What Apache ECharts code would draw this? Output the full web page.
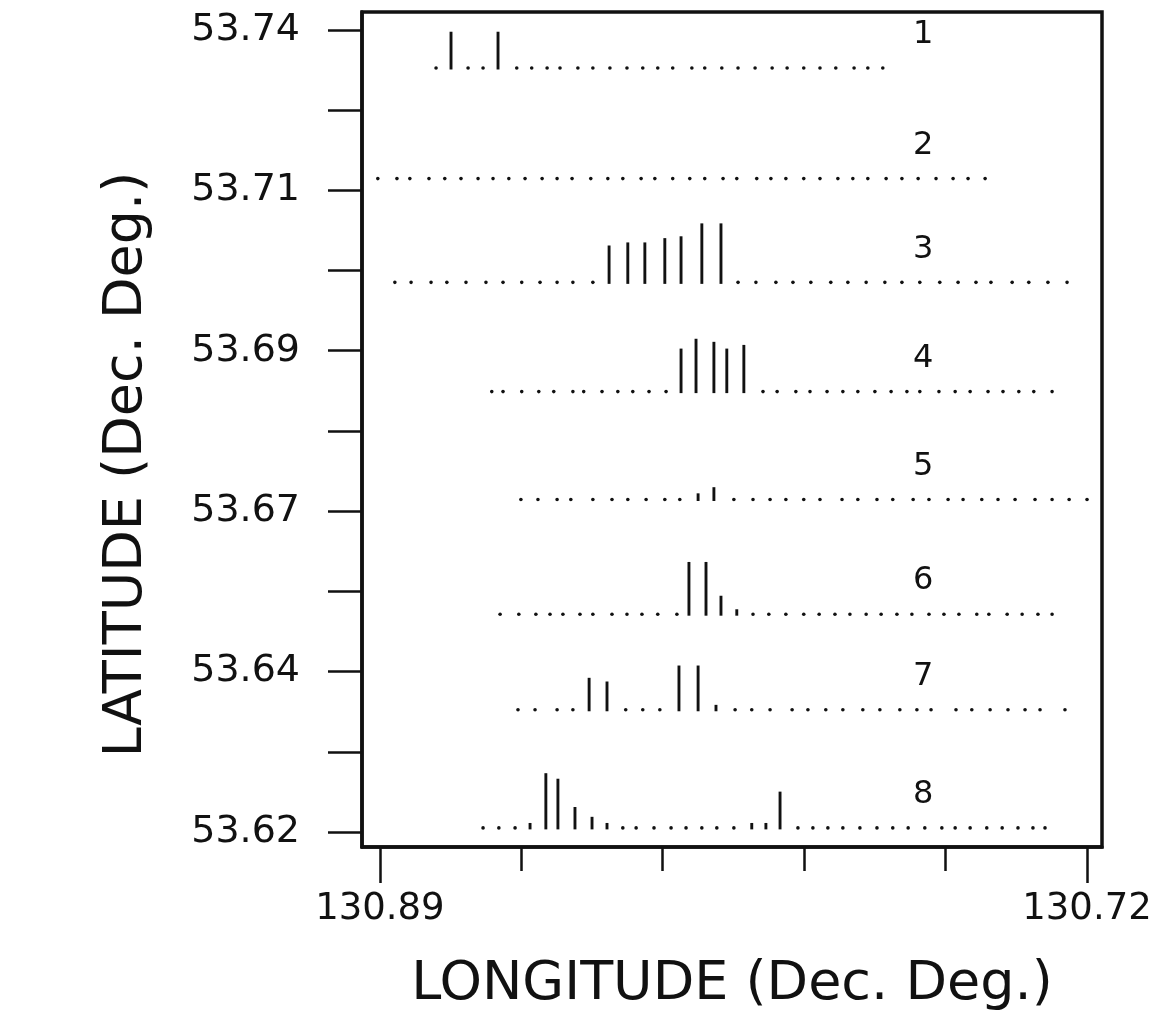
<!DOCTYPE html>
<html>
<head>
<meta charset="utf-8">
<script src="https://cdn.jsdelivr.net/npm/echarts@6/dist/echarts.min.js"></script>
<style>
html,body{margin:0;padding:0;background:#fff;}
#chart{width:1164px;height:1017px;}
</style>
</head>
<body>
<div id="chart"></div>
<script>
// ---- axis ticks / labels ----
const xTickValues = [130.89, 130.856, 130.822, 130.788, 130.754, 130.72];
const xLabelValues = [130.89, 130.72];
const xTickLabels = ['130.89', '130.72'];
const yTickValues = [53.62, 53.63175, 53.6435, 53.65525, 53.667, 53.67875, 53.6905, 53.70225, 53.714, 53.72575, 53.7375];
const yLabelValues = [53.62, 53.6435, 53.667, 53.6905, 53.714, 53.7375];
const yTickLabels = ['53.62', '53.64', '53.67', '53.69', '53.71', '53.74'];

// ---- profiles: names, baseline latitudes ----
const profileNames = ['1', '2', '3', '4', '5', '6', '7', '8'];
const profileLat = [53.7319, 53.7157, 53.7005, 53.6845, 53.6687, 53.6519, 53.6379, 53.6206];
const labelLon = 130.7594;

// station longitudes and amplitudes (amplitude units)
const p1Lon = [130.8765,130.8729,130.8688,130.8652,130.8616,130.8571,130.8535,130.8498,130.8467,130.8424,130.8388,130.8347,130.8306,130.8268,130.8232,130.8196,130.8150,130.8119,130.8078,130.8039,130.7998,130.7957,130.7921,130.7881,130.7842,130.7804,130.7760,130.7727,130.7691];
const p1Amp = [0,5.9,0,0,5.9,0,0,0,0,0,0,0,0,0,0,0,0,0,0,0,0,0,0,0,0,0,0,0,0];

const p2Lon = [130.8905,130.8859,130.8828,130.8782,130.8744,130.8705,130.8664,130.8628,130.8590,130.8551,130.8510,130.8474,130.8438,130.8393,130.8352,130.8316,130.8272,130.8239,130.8196,130.8155,130.8119,130.8075,130.8042,130.7994,130.7960,130.7924,130.7881,130.7842,130.7799,130.7763,130.7727,130.7683,130.7645,130.7606,130.7563,130.7522,130.7486,130.7445];
const p2Amp = [0,0,0,0,0,0,0,0,0,0,0,0,0,0,0,0,0,0,0,0,0,0,0,0,0,0,0,0,0,0,0,0,0,0,0,0,0,0];

const p3Lon = [130.8864,130.8825,130.8777,130.8739,130.8693,130.8645,130.8604,130.8559,130.8515,130.8474,130.8436,130.8388,130.8349,130.8304,130.8263,130.8215,130.8176,130.8126,130.8080,130.8039,130.7996,130.7948,130.7907,130.7864,130.7816,130.7775,130.7731,130.7686,130.7645,130.7602,130.7554,130.7510,130.7467,130.7431,130.7380,130.7340,130.7294,130.7248];
const p3Amp = [0,0,0,0,0,0,0,0,0,0,0,0,6.0,6.5,6.5,7.2,7.5,9.6,9.6,0,0,0,0,0,0,0,0,0,0,0,0,0,0,0,0,0,0,0];

const p4Lon = [130.8631,130.8604,130.8559,130.8518,130.8482,130.8436,130.8410,130.8366,130.8328,130.8292,130.8253,130.8212,130.8176,130.8140,130.8097,130.8066,130.8025,130.7979,130.7945,130.7900,130.7866,130.7825,130.7787,130.7751,130.7710,130.7671,130.7633,130.7602,130.7556,130.7517,130.7481,130.7438,130.7402,130.7364,130.7328,130.7284];
const p4Amp = [0,0,0,0,0,0,0,0,0,0,0,0,7.0,8.6,8.1,7.0,7.6,0,0,0,0,0,0,0,0,0,0,0,0,0,0,0,0,0,0,0];

const p5Lon = [130.8561,130.8520,130.8474,130.8441,130.8388,130.8342,130.8304,130.8260,130.8215,130.8179,130.8135,130.8097,130.8049,130.8003,130.7962,130.7924,130.7881,130.7842,130.7789,130.7751,130.7705,130.7667,130.7618,130.7580,130.7534,130.7498,130.7453,130.7414,130.7373,130.7325,130.7284,130.7243,130.7200];
const p5Amp = [0,0,0,0,0,0,0,0,0,0,1.0,2.0,0,0,0,0,0,0,0,0,0,0,0,0,0,0,0,0,0,0,0,0,0];

const p6Lon = [130.8611,130.8566,130.8525,130.8491,130.8460,130.8419,130.8388,130.8342,130.8306,130.8270,130.8232,130.8186,130.8157,130.8116,130.8080,130.8042,130.8003,130.7965,130.7924,130.7881,130.7844,130.7806,130.7770,130.7731,130.7695,130.7657,130.7621,130.7580,130.7544,130.7508,130.7465,130.7436,130.7392,130.7356,130.7318,130.7284];
const p6Amp = [0,0,0,0,0,0,0,0,0,0,0,0,8.5,8.5,3.0,0.8,0,0,0,0,0,0,0,0,0,0,0,0,0,0,0,0,0,0,0,0];

const p7Lon = [130.8568,130.8527,130.8474,130.8436,130.8397,130.8354,130.8309,130.8268,130.8227,130.8181,130.8135,130.8092,130.8046,130.8006,130.7962,130.7909,130.7871,130.7828,130.7787,130.7739,130.7698,130.7650,130.7609,130.7575,130.7515,130.7477,130.7433,130.7390,130.7349,130.7313,130.7253];
const p7Amp = [0,0,0,0,5.2,4.6,0,0,0,7.2,7.2,0.8,0,0,0,0,0,0,0,0,0,0,0,0,0,0,0,0,0,0,0];

const p8Lon = [130.8652,130.8614,130.8575,130.8539,130.8501,130.8472,130.8431,130.8390,130.8354,130.8316,130.8284,130.8241,130.8200,130.8164,130.8126,130.8090,130.8049,130.8006,130.7972,130.7938,130.7895,130.7859,130.7823,130.7787,130.7746,130.7705,130.7667,130.7630,130.7590,130.7549,130.7517,130.7481,130.7441,130.7404,130.7366,130.7330,130.7301];
const p8Amp = [0,0,0,0.8,8.9,8.0,3.4,1.8,0.8,0,0,0,0,0,0,0,0,0.8,0.8,5.9,0,0,0,0,0,0,0,0,0,0,0,0,0,0,0,0,0];

const profileLons = [p1Lon, p2Lon, p3Lon, p4Lon, p5Lon, p6Lon, p7Lon, p8Lon];
const profileAmps = [p1Amp, p2Amp, p3Amp, p4Amp, p5Amp, p6Amp, p7Amp, p8Amp];

// ---- styling ----
const INK = '#111111';
const FONT = "'DejaVu Sans', 'Liberation Sans', sans-serif";
const AMP_DEG = 0.0009; // latitude degrees per amplitude unit

const stationData = [];
profileLons.forEach((lons, p) => {
  lons.forEach((lon, i) => {
    stationData.push([lon, profileLat[p], profileAmps[p][i] || 0]);
  });
});
const labelData = profileNames.map((n, p) => [labelLon, profileLat[p], p]);

const chart = echarts.init(document.getElementById('chart'), null, { renderer: 'canvas' });

const option = {
  backgroundColor: '#ffffff',
  animation: false,
  grid: {
    left: 362, right: 62, top: 12, bottom: 169,
    show: true, borderColor: INK, borderWidth: 3.5, backgroundColor: 'transparent'
  },
  xAxis: [
    {
      type: 'value', inverse: true, min: 130.7164, max: 130.8943, position: 'bottom',
      name: 'LONGITUDE (Dec. Deg.)', nameLocation: 'middle', nameGap: 111,
      nameTextStyle: { fontFamily: FONT, fontSize: 54, color: INK },
      axisLine: { show: true, lineStyle: { color: INK, width: 3.5 } },
      axisTick: { show: true, length: 36, customValues: xLabelValues, lineStyle: { color: INK, width: 2.5 } },
      axisLabel: {
        show: true, customValues: xLabelValues, margin: 44,
        fontFamily: FONT, fontSize: 37, color: INK,
        formatter: (v) => { const i = xLabelValues.findIndex(t => Math.abs(t - v) < 1e-6); return i >= 0 ? xTickLabels[i] : ''; }
      },
      splitLine: { show: false }
    },
    {
      type: 'value', inverse: true, min: 130.7164, max: 130.8943, position: 'bottom',
      axisLine: { show: false },
      axisTick: { show: true, length: 24, customValues: xTickValues.filter(v => xLabelValues.indexOf(v) < 0), lineStyle: { color: INK, width: 2.5 } },
      axisLabel: { show: false },
      splitLine: { show: false }
    }
  ],
  yAxis: {
    type: 'value', min: 53.6178, max: 53.7401,
    name: 'LATITUDE (Dec. Deg.)', nameLocation: 'middle', nameGap: 208, nameRotate: 90,
    nameTextStyle: { fontFamily: FONT, fontSize: 54, color: INK, padding: [0, 70, 0, 0] },
    axisLine: { show: true, lineStyle: { color: INK, width: 3.5 } },
    axisTick: { show: true, length: 34, customValues: yTickValues, lineStyle: { color: INK, width: 2.5 } },
    axisLabel: {
      show: true, customValues: yLabelValues, margin: 62,
      fontFamily: FONT, fontSize: 38, color: INK,
      formatter: (v) => { const i = yLabelValues.findIndex(t => Math.abs(t - v) < 1e-6); return i >= 0 ? yTickLabels[i] : ''; }
    },
    splitLine: { show: false }
  },
  series: [
    {
      type: 'custom',
      xAxisIndex: 0, yAxisIndex: 0,
      data: stationData,
      encode: { x: 0, y: 1 },
      clip: false,
      renderItem: function (params, api) {
        const lon = api.value(0), lat = api.value(1), amp = api.value(2);
        const p = api.coord([lon, lat]);
        if (!amp) {
          return { type: 'circle', shape: { cx: p[0], cy: p[1], r: 1.8 }, style: { fill: INK } };
        }
        const q = api.coord([lon, lat + amp * AMP_DEG]);
        return {
          type: 'line',
          shape: { x1: p[0], y1: p[1] + 1.5, x2: q[0], y2: q[1] },
          style: { stroke: INK, lineWidth: 2.9 }
        };
      }
    },
    {
      type: 'custom',
      xAxisIndex: 0, yAxisIndex: 0,
      data: labelData,
      encode: { x: 0, y: 1 },
      clip: false,
      renderItem: function (params, api) {
        const p = api.coord([api.value(0), api.value(1)]);
        const idx = api.value(2);
        return {
          type: 'text',
          x: p[0], y: p[1] - 33,
          style: {
            text: profileNames[idx], fill: INK,
            font: '32px ' + FONT,
            align: 'center', verticalAlign: 'middle',
            textAlign: 'center', textVerticalAlign: 'middle'
          }
        };
      }
    }
  ]
};
chart.setOption(option);
</script>
</body>
</html>
